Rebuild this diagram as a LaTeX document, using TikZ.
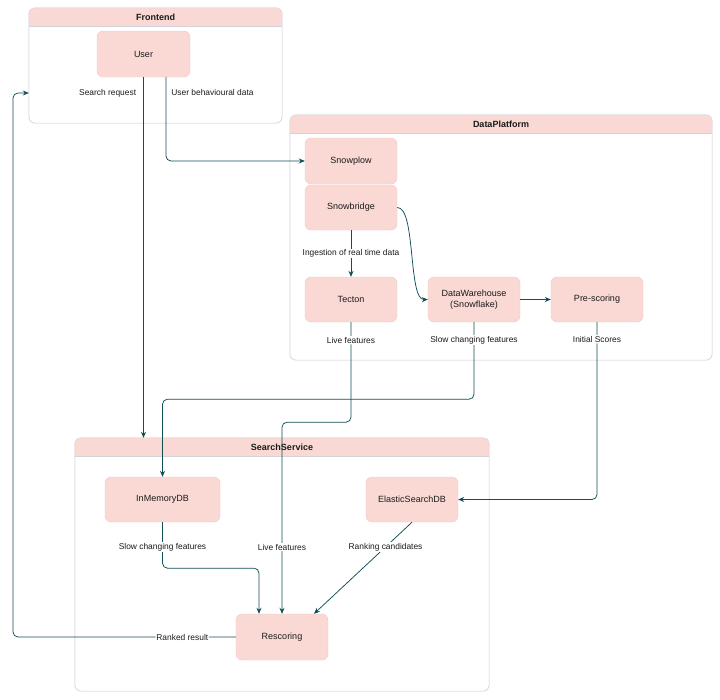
\documentclass[tikz,border=0pt]{standalone}
\usepackage{fontspec}
\setmainfont{Liberation Sans}
\usetikzlibrary{arrows.meta,calc}
\definecolor{boxfill}{HTML}{FAD9D5}
\definecolor{boxline}{HTML}{F0C9C4}
\definecolor{contline}{HTML}{D3D3DC}
\definecolor{edgec}{HTML}{0F4F55}
\definecolor{txt}{HTML}{1A1A1A}
\tikzset{
  box/.style={draw=boxline, fill=boxfill, rounded corners=6pt, minimum width=92pt, minimum height=45pt, inner sep=1pt, align=center, text=txt, font=\fontsize{9}{11}\selectfont},
  container/.style={draw=contline, rounded corners=6pt, inner sep=0pt},
  title/.style={font=\bfseries\fontsize{9}{11}\selectfont, text=txt},
  flow/.style={draw=edgec, line width=0.75pt, -{Stealth[length=6pt,width=5pt]}},
  lbl/.style={font=\fontsize{8.4}{10}\selectfont, text=txt, fill=white, inner sep=1pt},
  sidelbl/.style={font=\fontsize{8.4}{10}\selectfont, text=txt, inner sep=1pt},
}
\newcommand{\containerhead}[2]{%
  \fill[boxfill, rounded corners=6pt] (#1.north west) rectangle ($(#1.north east)+(0,#2)$);
  \fill[boxfill] ($(#1.north west)+(0,#2)+(0,-6)$) rectangle ($(#1.north east)+(0,#2)$);
  \draw[contline] ($(#1.north west)+(0,#2)$) -- ($(#1.north east)+(0,#2)$);
}
\begin{document}
\begin{tikzpicture}[x=1pt,y=-1pt]
\useasboundingbox (0,0) rectangle (720,699);
\fill[white] (0,0) rectangle (720,699);

% containers
\node[container, minimum width=253pt, minimum height=115pt] (frontend) at (155.5,65.5) {};
\containerhead{frontend}{18}
\draw[contline, rounded corners=6pt] (frontend.north west) rectangle (frontend.south east);
\node[title] (fetitle) at (155.5,17) {Frontend};

\node[container, minimum width=422pt, minimum height=245pt] (dataplatform) at (501,237.5) {};
\containerhead{dataplatform}{18}
\draw[contline, rounded corners=6pt] (dataplatform.north west) rectangle (dataplatform.south east);
\node[title] (dptitle) at (501,124) {DataPlatform};

\node[container, minimum width=414pt, minimum height=253pt] (searchservice) at (282,564.5) {};
\containerhead{searchservice}{18}
\draw[contline, rounded corners=6pt] (searchservice.north west) rectangle (searchservice.south east);
\node[title] (sstitle) at (282,447) {SearchService};

% nodes
\node[box, minimum width=93pt, minimum height=46pt] (user) at (143.5,54) {User};
\node[box, minimum height=46pt] (snowplow) at (351,161) {Snowplow};
\node[box] (snowbridge) at (351,207.5) {Snowbridge};
\node[box] (tecton) at (351,299.5) {Tecton};
\node[box] (dw) at (474,299.5) {DataWarehouse\\(Snowflake)};
\node[box] (pre) at (597,299.5) {Pre-scoring};
\node[box, minimum width=115pt] (inmem) at (162.5,499.5) {InMemoryDB};
\node[box] (esdb) at (412,499.5) {ElasticSearchDB};
\node[box, minimum height=46pt] (resc) at (282,637) {Rescoring};

% edges
\draw[flow] (user.south) -- node[sidelbl, pos=0.044, anchor=east, xshift=-6pt] {Search request} (user.south |- searchservice.north);
\draw[flow, rounded corners=5pt] ([xshift=22.5pt]user.south) |- node[sidelbl, pos=0.094, anchor=west, xshift=4pt] {User behavioural data} (snowplow.west);
\draw[flow] (snowbridge.south) -- node[lbl] {Ingestion of real time data} (tecton.north);
\draw[flow] (snowbridge.east) .. controls (416,207) and (408,300) .. (dw.west);
\draw[flow] (dw.east) -- (pre.west);
\draw[flow, rounded corners=5pt] (tecton.south) -- node[lbl, pos=0.18] {Live features} ++(0,100) -| node[lbl, pos=0.826] {Live features} (resc.north);
\draw[flow, rounded corners=5pt] (dw.south) -- node[lbl, pos=0.23] {Slow changing features} ++(0,77) -| (inmem.north);
\draw[flow, rounded corners=5pt] (pre.south) |- node[lbl, pos=0.048] {Initial Scores} (esdb.east);
\draw[flow, rounded corners=5pt] (inmem.south) -- node[lbl, pos=0.54] {Slow changing features} ++(0,46) -| ([xshift=-23pt]resc.north);
\draw[flow] (esdb.south) -- node[lbl, pos=0.27] {Ranking candidates} ([xshift=32pt]resc.north);
\coordinate (rrcorner) at (13,637);
\draw[flow, rounded corners=5pt] (resc.west) -- node[lbl, pos=0.24] {Ranked result} (rrcorner) |- ([yshift=-27.5pt]frontend.west);
\end{tikzpicture}
\end{document}
